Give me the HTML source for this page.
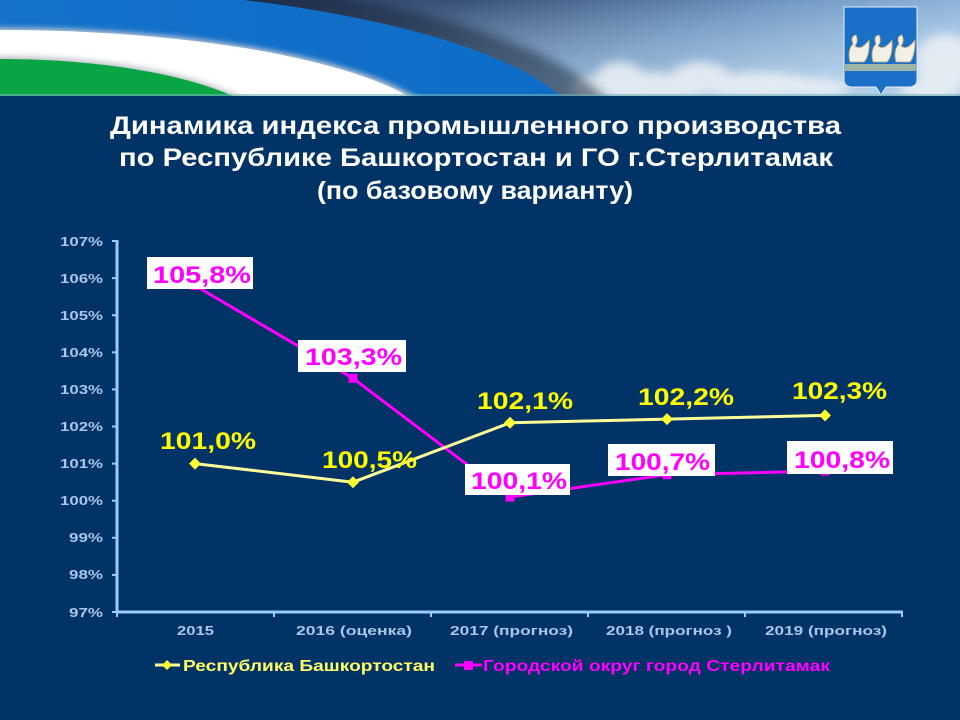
<!DOCTYPE html>
<html><head><meta charset="utf-8"><style>
html,body{margin:0;padding:0;background:#013366;}
svg{display:block;}
</style></head><body>
<svg width="960" height="720" viewBox="0 0 960 720" xmlns="http://www.w3.org/2000/svg" font-family="'Liberation Sans', 'Noto Sans CJK SC', sans-serif">
<defs>
<linearGradient id="sky" x1="0" y1="0" x2="1" y2="0.3">
<stop offset="0" stop-color="#202c4e"/>
<stop offset="0.45" stop-color="#3b5379"/>
<stop offset="0.75" stop-color="#6f98c2"/>
<stop offset="1" stop-color="#9cc0e2"/>
</linearGradient>
<linearGradient id="skyv" x1="0" y1="0" x2="0" y2="1">
<stop offset="0" stop-color="#ffffff" stop-opacity="0"/>
<stop offset="1" stop-color="#d8e6f0" stop-opacity="0.35"/>
</linearGradient>
<filter id="blur" x="-20%" y="-20%" width="140%" height="140%"><feGaussianBlur stdDeviation="5"/></filter>
<filter id="blur2" x="-20%" y="-20%" width="140%" height="140%"><feGaussianBlur stdDeviation="3"/></filter>
<linearGradient id="blueband" x1="0" y1="0" x2="1" y2="0">
<stop offset="0" stop-color="#1a78cf"/>
<stop offset="1" stop-color="#0d6cc6"/>
</linearGradient>
<clipPath id="hdr"><rect x="0" y="0" width="960" height="96"/></clipPath>
</defs>

<rect x="0" y="0" width="960" height="720" fill="#013366"/>

<!-- header -->
<g clip-path="url(#hdr)">
<rect x="0" y="0" width="960" height="96" fill="url(#sky)"/>
<rect x="0" y="0" width="960" height="96" fill="url(#skyv)"/>
<g filter="url(#blur)" fill="#e8eef4" opacity="0.9">
<ellipse cx="640" cy="88" rx="70" ry="16"/>
<ellipse cx="700" cy="78" rx="30" ry="16"/>
<ellipse cx="760" cy="86" rx="60" ry="14"/>
<ellipse cx="620" cy="74" rx="22" ry="12"/>
<ellipse cx="820" cy="88" rx="30" ry="10"/>
<ellipse cx="945" cy="62" rx="30" ry="28"/>
<ellipse cx="930" cy="90" rx="30" ry="12"/>
</g>
<ellipse cx="0" cy="140" rx="625" ry="170" fill="#0e1a33" opacity="0.5" filter="url(#blur)"/>
<ellipse cx="0" cy="140" rx="585" ry="154" fill="url(#blueband)"/>
<ellipse cx="0" cy="140" rx="450" ry="112" fill="#c9ccd2" filter="url(#blur2)"/>
<ellipse cx="0" cy="140" rx="445" ry="110" fill="#ffffff"/>
<ellipse cx="0" cy="140" rx="280" ry="84" fill="#bfc4c8" filter="url(#blur2)"/>
<ellipse cx="0" cy="140" rx="277" ry="81" fill="#0aa543"/>
<!-- shield -->
<path d="M844 7 L917 7 L917 80 Q917 86 910 87 L886 87 L881 95 L876 87 L851 87 Q844 86 844 80 Z" fill="#1a6fc6" stroke="#e8eef5" stroke-width="1"/>
<rect x="845" y="64" width="71" height="7" fill="#9fb3a6"/>
<g fill="#f2efe6" stroke="#c9a96a" stroke-width="0.8">
<path d="M850 62 Q847 50 853 44 Q850 36 856 35 Q859 41 855 46 Q861 51 869 40 Q870 56 864 62 Z"/>
<path d="M873 62 Q870 50 876 44 Q873 36 879 35 Q882 41 878 46 Q884 51 892 40 Q893 56 887 62 Z"/>
<path d="M896 62 Q893 50 899 44 Q896 36 902 35 Q905 41 901 46 Q907 51 915 40 Q915 56 910 62 Z"/>
</g>
<rect x="0" y="94" width="960" height="2" fill="#6fb0b8" opacity="0.6"/>
</g>

<!-- title -->
<g fill="#ffffff" font-weight="bold" font-size="25" font-family="'Liberation Sans Narrow', 'Liberation Sans', sans-serif">
<text x="110" y="134" textLength="731" lengthAdjust="spacingAndGlyphs">Динамика индекса промышленного производства</text>
<text x="119" y="166" textLength="714" lengthAdjust="spacingAndGlyphs">по Республике Башкортостан и ГО г.Стерлитамак</text>
<text x="317" y="199" textLength="316" lengthAdjust="spacingAndGlyphs">(по базовому варианту)</text>
</g>

<!-- axes -->
<g stroke="#99ccff" stroke-width="3" fill="none">
<line x1="117" y1="240" x2="117" y2="613"/>
<line x1="116" y1="612" x2="903" y2="612"/>
</g>
<g stroke="#99ccff" stroke-width="2">
<line x1="112" y1="241" x2="117" y2="241"/>
<line x1="112" y1="278.1" x2="117" y2="278.1"/>
<line x1="112" y1="315.2" x2="117" y2="315.2"/>
<line x1="112" y1="352.3" x2="117" y2="352.3"/>
<line x1="112" y1="389.4" x2="117" y2="389.4"/>
<line x1="112" y1="426.5" x2="117" y2="426.5"/>
<line x1="112" y1="463.6" x2="117" y2="463.6"/>
<line x1="112" y1="500.7" x2="117" y2="500.7"/>
<line x1="112" y1="537.8" x2="117" y2="537.8"/>
<line x1="112" y1="574.9" x2="117" y2="574.9"/>
<line x1="112" y1="612" x2="117" y2="612"/>
<line x1="117" y1="612" x2="117" y2="617"/>
<line x1="274" y1="612" x2="274" y2="617"/>
<line x1="431" y1="612" x2="431" y2="617"/>
<line x1="588" y1="612" x2="588" y2="617"/>
<line x1="745" y1="612" x2="745" y2="617"/>
<line x1="902" y1="612" x2="902" y2="617"/>
</g>

<!-- y tick labels -->
<g fill="#a9c6ea" font-weight="bold" font-size="13" text-anchor="end">
<text x="103" y="246" textLength="43" lengthAdjust="spacingAndGlyphs">107%</text>
<text x="103" y="283" textLength="43" lengthAdjust="spacingAndGlyphs">106%</text>
<text x="103" y="320" textLength="43" lengthAdjust="spacingAndGlyphs">105%</text>
<text x="103" y="357" textLength="43" lengthAdjust="spacingAndGlyphs">104%</text>
<text x="103" y="394" textLength="43" lengthAdjust="spacingAndGlyphs">103%</text>
<text x="103" y="431" textLength="43" lengthAdjust="spacingAndGlyphs">102%</text>
<text x="103" y="468" textLength="43" lengthAdjust="spacingAndGlyphs">101%</text>
<text x="103" y="505" textLength="43" lengthAdjust="spacingAndGlyphs">100%</text>
<text x="103" y="542" textLength="34" lengthAdjust="spacingAndGlyphs">99%</text>
<text x="103" y="579" textLength="34" lengthAdjust="spacingAndGlyphs">98%</text>
<text x="103" y="617" textLength="34" lengthAdjust="spacingAndGlyphs">97%</text>
</g>

<!-- x labels -->
<g fill="#a9c6ea" font-weight="bold" font-size="13">
<text x="177" y="635" textLength="37" lengthAdjust="spacingAndGlyphs">2015</text>
<text x="296" y="635" textLength="116" lengthAdjust="spacingAndGlyphs">2016 (оценка)</text>
<text x="450" y="635" textLength="123" lengthAdjust="spacingAndGlyphs">2017 (прогноз)</text>
<text x="606" y="635" textLength="126" lengthAdjust="spacingAndGlyphs">2018 (прогноз )</text>
<text x="765" y="635" textLength="122" lengthAdjust="spacingAndGlyphs">2019 (прогноз)</text>
</g>

<!-- series lines -->
<polyline points="195,285.5 353,378.3 510,497 667,474.7 825,471" fill="none" stroke="#ff00ff" stroke-width="3" stroke-linejoin="round"/>
<polyline points="195,463.6 353,482.2 510,422.8 667,419.1 825,415.4" fill="none" stroke="#ffff99" stroke-width="3" stroke-linejoin="round"/>

<!-- markers -->
<g fill="#ff00ff">
<rect x="190.5" y="281" width="9" height="9"/>
<rect x="348.5" y="373.8" width="9" height="9"/>
<rect x="505.5" y="492.5" width="9" height="9"/>
<rect x="662.5" y="470.2" width="9" height="9"/>
<rect x="820.5" y="466.5" width="9" height="9"/>
</g>
<g fill="#ffff33">
<path d="M195 457.6 L201 463.6 L195 469.6 L189 463.6 Z"/>
<path d="M353 476.2 L359 482.2 L353 488.2 L347 482.2 Z"/>
<path d="M510 416.8 L516 422.8 L510 428.8 L504 422.8 Z"/>
<path d="M667 413.1 L673 419.1 L667 425.1 L661 419.1 Z"/>
<path d="M825 409.4 L831 415.4 L825 421.4 L819 415.4 Z"/>
</g>

<!-- magenta label boxes -->
<g fill="#ffffff">
<rect x="147" y="257" width="106" height="32"/>
<rect x="298" y="340" width="108" height="32"/>
<rect x="465" y="464" width="105" height="31"/>
<rect x="608" y="444" width="107" height="32"/>
<rect x="787" y="441" width="106" height="33"/>
</g>
<g fill="#ff00ff" font-weight="bold" font-size="24">
<text x="153" y="283" textLength="98" lengthAdjust="spacingAndGlyphs">105,8%</text>
<text x="305" y="365" textLength="97" lengthAdjust="spacingAndGlyphs">103,3%</text>
<text x="471" y="489" textLength="96" lengthAdjust="spacingAndGlyphs">100,1%</text>
<text x="615" y="470" textLength="95" lengthAdjust="spacingAndGlyphs">100,7%</text>
<text x="794" y="468" textLength="96" lengthAdjust="spacingAndGlyphs">100,8%</text>
</g>

<!-- yellow labels -->
<g fill="#ffff00" font-weight="bold" font-size="24">
<text x="160" y="449" textLength="96" lengthAdjust="spacingAndGlyphs">101,0%</text>
<text x="322" y="468" textLength="95" lengthAdjust="spacingAndGlyphs">100,5%</text>
<text x="477" y="409" textLength="96" lengthAdjust="spacingAndGlyphs">102,1%</text>
<text x="638" y="405" textLength="96" lengthAdjust="spacingAndGlyphs">102,2%</text>
<text x="792" y="399" textLength="95" lengthAdjust="spacingAndGlyphs">102,3%</text>
</g>

<!-- legend -->
<line x1="155" y1="665" x2="180" y2="665" stroke="#ffff99" stroke-width="3"/>
<path d="M167 660 L172 665 L167 670 L162 665 Z" fill="#ffff33"/>
<text x="183" y="671" fill="#ffff66" font-weight="bold" font-size="16" textLength="252" lengthAdjust="spacingAndGlyphs">Республика Башкортостан</text>
<line x1="455" y1="665" x2="482" y2="665" stroke="#ff00ff" stroke-width="3"/>
<rect x="464" y="661" width="9" height="9" fill="#ff00ff"/>
<text x="483" y="671" fill="#ff00ff" font-weight="bold" font-size="16" textLength="347" lengthAdjust="spacingAndGlyphs">Городской округ город Стерлитамак</text>
</svg>
</body></html>
